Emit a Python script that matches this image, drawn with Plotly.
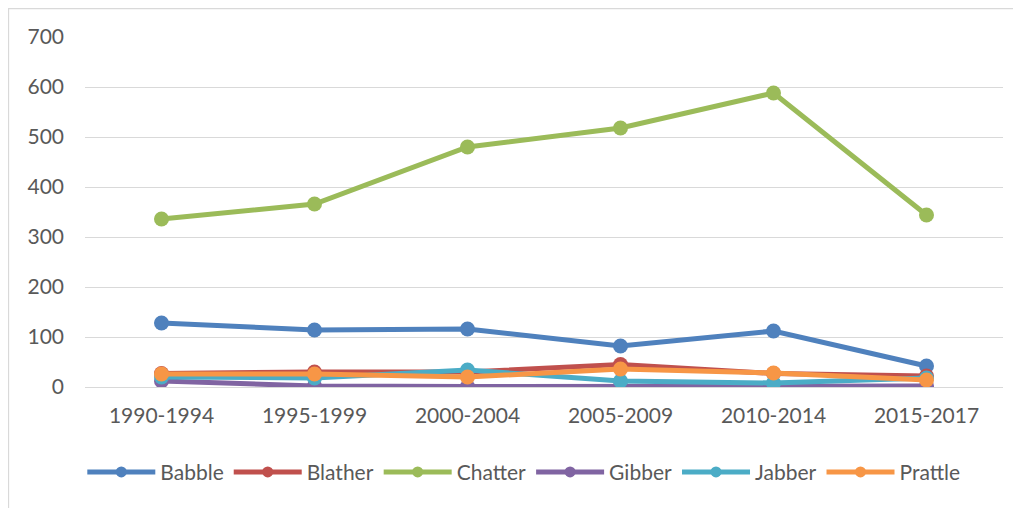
import plotly.graph_objects as go

categories = ["1990-1994", "1995-1999", "2000-2004", "2005-2009", "2010-2014", "2015-2017"]
babble = [128, 114, 116, 82, 112, 42]
blather = [27, 30, 30, 45, 27, 22]
chatter = [336, 366, 480, 518, 588, 344]
gibber = [12, 2, 1, 2, 2, 2]
jabber = [20, 18, 34, 12, 8, 18]
prattle = [26, 26, 20, 36, 28, 14]

series = [
    ("Babble", babble, "#4F81BD"),
    ("Blather", blather, "#C0504D"),
    ("Chatter", chatter, "#9BBB59"),
    ("Gibber", gibber, "#8064A2"),
    ("Jabber", jabber, "#4BACC6"),
    ("Prattle", prattle, "#F79646"),
]

fig = go.Figure()
for name, vals, col in series:
    fig.add_trace(go.Scatter(
        x=categories, y=vals, name=name, mode="lines+markers",
        line=dict(color=col, width=5),
        marker=dict(color=col, size=15),
        showlegend=False, legendgroup=name,
    ))
# legend entries with smaller markers (as in the reference legend)
for name, vals, col in series:
    fig.add_trace(go.Scatter(
        x=[None], y=[None], name=name, mode="lines+markers",
        line=dict(color=col, width=5),
        marker=dict(color=col, size=11),
        showlegend=True, legendgroup=name,
    ))

# page body has an 8px margin; figure is placed at (8, 8)
W, H = 1013, 500
ml, mr, mt, mb = 77, 18, 29, 121
pw = W - ml - mr
ph = H - mt - mb

fig.update_layout(
    width=W, height=H,
    margin=dict(l=ml, r=mr, t=mt, b=mb),
    paper_bgcolor="white", plot_bgcolor="white",
    font=dict(family="Lato, Liberation Sans, sans-serif", size=21, color="#595959"),
    showlegend=True,
    legend=dict(orientation="h", x=0.478, xanchor="center", y=-0.185, yanchor="top",
                font=dict(size=21, color="#595959"), itemwidth=68, tracegroupgap=0),
    xaxis=dict(type="category", showgrid=False, showline=False, zeroline=False,
               ticks="", range=[-0.5, 5.5], ticklabelstandoff=14,
               tickfont=dict(size=21, color="#595959")),
    yaxis=dict(range=[0, 700], dtick=100, showgrid=True, gridcolor="#D9D9D9", gridwidth=1.3,
               zeroline=True, zerolinecolor="#D9D9D9", zerolinewidth=1.3, showline=False,
               ticks="", ticklabelstandoff=20, tickfont=dict(size=21, color="#595959")),
    shapes=[dict(type="rect", xref="paper", yref="paper",
                 x0=(0.5 - ml) / pw, x1=(1030 - ml) / pw,
                 y0=(H - 520 - mb) / ph, y1=(H - 0.5 - mb) / ph,
                 line=dict(color="#D9D9D9", width=1.3), layer="below")],
)

fig.write_html("out.html")
